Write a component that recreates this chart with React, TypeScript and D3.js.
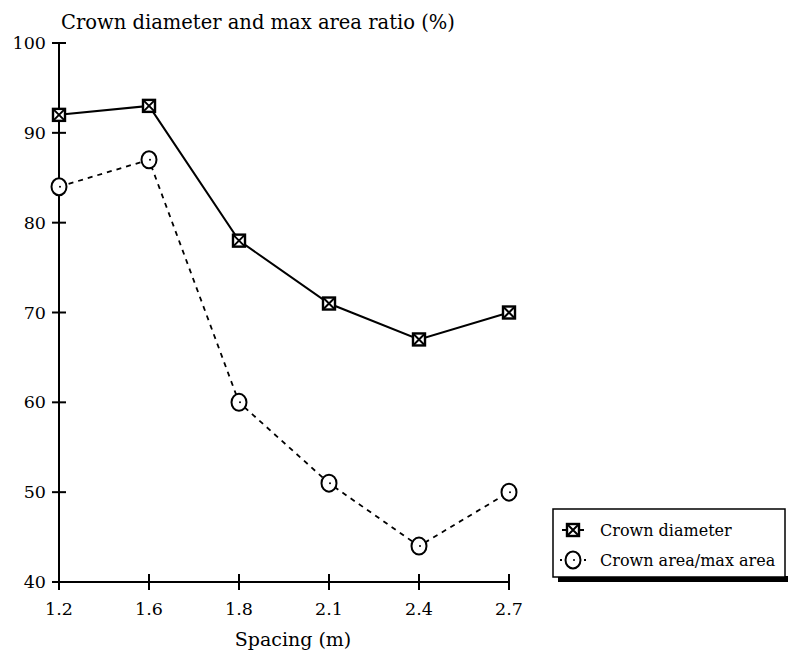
import * as d3 from "d3";

const WIDTH = 788;
const HEIGHT = 650;
const MARGIN = { top: 43, right: 279, bottom: 68, left: 59 };

const spacing = ["1.2", "1.6", "1.8", "2.1", "2.4", "2.7"];
const crownDiameter = [92, 93, 78, 71, 67, 70];
const crownArea = [84, 87, 60, 51, 44, 50];
const yTicks = [40, 50, 60, 70, 80, 90, 100];

const FONT = "DejaVu Serif, serif";

const SquareMark = ({ x, y }: { x: number; y: number }) => (
  <g transform={`translate(${x},${y})`}>
    <rect x={-6} y={-6} width={12} height={12} fill="#fff" stroke="#000" strokeWidth={2.4} />
    <path d="M-5.5,-5.5L5.5,5.5M5.5,-5.5L-5.5,5.5" stroke="#000" strokeWidth={2} />
  </g>
);

const CircleMark = ({ x, y }: { x: number; y: number }) => (
  <g transform={`translate(${x},${y})`}>
    <ellipse rx={7.5} ry={8.5} fill="#fff" stroke="#000" strokeWidth={2} />
    <circle cx={1} cy={0} r={1} fill="#000" />
  </g>
);

export default function App() {
  const boundsWidth = WIDTH - MARGIN.left - MARGIN.right;
  const boundsHeight = HEIGHT - MARGIN.top - MARGIN.bottom;

  const xScale = d3.scalePoint<string>().domain(spacing).range([0, boundsWidth]);
  const yScale = d3.scaleLinear().domain([40, 100]).range([boundsHeight, 0]);

  const line = d3
    .line<number>()
    .x((_, i) => xScale(spacing[i]) as number)
    .y((d) => yScale(d));

  // legend position
  const lx = 553;
  const ly = 509;
  const lw = 232;
  const lh = 68;

  return (
    <svg width={WIDTH} height={HEIGHT} style={{ display: "block", position: "absolute", left: 0, top: 0 }}>
      <rect width={WIDTH} height={HEIGHT} fill="#fff" />
      <text x={61} y={29} fontFamily={FONT} fontSize={19.5} fill="#000">
        Crown diameter and max area ratio (%)
      </text>
      <g transform={`translate(${MARGIN.left},${MARGIN.top})`} fontFamily={FONT}>
        {/* axes */}
        <line x1={0} x2={0} y1={0} y2={boundsHeight + 8} stroke="#000" strokeWidth={2} />
        <line x1={0} x2={boundsWidth} y1={boundsHeight} y2={boundsHeight} stroke="#000" strokeWidth={2} />
        {yTicks.map((t) => (
          <g key={t} transform={`translate(0,${yScale(t)})`}>
            <line x1={-7} x2={7} stroke="#000" strokeWidth={2} />
            <text x={-13} dy="0.35em" textAnchor="end" fontSize={17.5}>
              {t}
            </text>
          </g>
        ))}
        {spacing.map((s) => (
          <g key={s} transform={`translate(${xScale(s)},${boundsHeight})`}>
            <line y1={-8} y2={8} stroke="#000" strokeWidth={2} />
            <text y={33} textAnchor="middle" fontSize={17.5}>
              {s}
            </text>
          </g>
        ))}
        <text x={boundsWidth / 2 + 9} y={boundsHeight + 64} textAnchor="middle" fontSize={19}>
          Spacing (m)
        </text>

        {/* series */}
        <path d={line(crownDiameter) ?? ""} fill="none" stroke="#000" strokeWidth={2} />
        <path d={line(crownArea) ?? ""} fill="none" stroke="#000" strokeWidth={1.8} strokeDasharray="5,5" />
        {crownDiameter.map((v, i) => (
          <SquareMark key={i} x={xScale(spacing[i]) as number} y={yScale(v)} />
        ))}
        {crownArea.map((v, i) => (
          <CircleMark key={i} x={xScale(spacing[i]) as number} y={yScale(v)} />
        ))}
      </g>

      {/* legend */}
      <g fontFamily={FONT}>
        <rect x={lx + 5} y={ly + lh - 1} width={WIDTH - lx - 5} height={6} fill="#000" />
        <rect x={lx} y={ly} width={lw} height={lh} fill="#fff" stroke="#000" strokeWidth={1.5} />
        <line x1={lx + 9} x2={lx + 31} y1={ly + 21} y2={ly + 21} stroke="#000" strokeWidth={2} />
        <SquareMark x={lx + 20} y={ly + 21} />
        <text x={lx + 47} y={ly + 21} dy="0.35em" fontSize={16}>
          Crown diameter
        </text>
        <line x1={lx + 7} x2={lx + 33} y1={ly + 51} y2={ly + 51} stroke="#000" strokeWidth={1.8} strokeDasharray="2,6" />
        <CircleMark x={lx + 20} y={ly + 51} />
        <text x={lx + 47} y={ly + 51} dy="0.35em" fontSize={16}>
          Crown area/max area
        </text>
      </g>
    </svg>
  );
}
